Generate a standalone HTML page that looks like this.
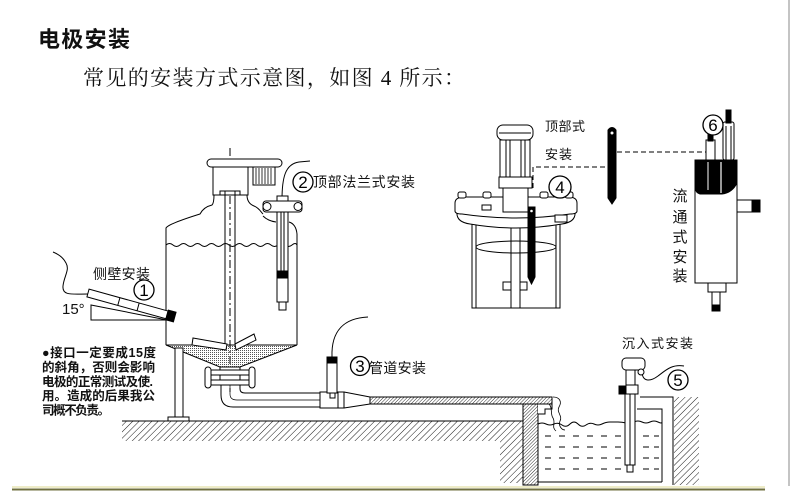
<!DOCTYPE html>
<html><head><meta charset="utf-8"><style>
html,body{margin:0;padding:0;background:#fff;}
svg{display:block;}
text{font-family:"Liberation Sans","Noto Sans CJK SC",sans-serif;}
</style></head><body>
<svg width="790" height="492" viewBox="0 0 790 492" xmlns="http://www.w3.org/2000/svg">
<defs>
<pattern id="hg" width="4.5" height="4.5" patternUnits="userSpaceOnUse" patternTransform="rotate(45)"><line x1="0" y1="0" x2="0" y2="4.5" stroke="#000" stroke-width="0.9"/></pattern>
<pattern id="hd" width="2.4" height="2.4" patternUnits="userSpaceOnUse" patternTransform="rotate(45)"><line x1="0" y1="0" x2="0" y2="2.4" stroke="#000" stroke-width="0.8"/></pattern>
<pattern id="dots" width="2" height="2" patternUnits="userSpaceOnUse"><rect width="1" height="1" fill="#555"/></pattern>
</defs>

<!-- frame lines -->
<line x1="789" y1="0" x2="789" y2="486" stroke="#8a8a8a" stroke-width="1"/>
<line x1="12" y1="487" x2="765" y2="487" stroke="#eeecc8" stroke-width="2"/>
<line x1="12" y1="489.5" x2="765" y2="489.5" stroke="#707040" stroke-width="2"/>

<!-- titles -->
<text x="38" y="47" font-size="22" font-weight="bold" textLength="92" fill="#111">电极安装</text>
<text x="83" y="85" font-size="21" textLength="382" fill="#111" style="font-family:'Liberation Serif','Noto Serif CJK SC',serif">常见的安装方式示意图，如图 4 所示：</text>

<g fill="none" stroke="#000" stroke-width="1">
<!-- ===== LEFT TANK ===== -->
<line x1="230" y1="148" x2="230" y2="392" stroke-dasharray="8,3,2,3"/>
<rect x="207" y="159" width="75" height="8" rx="4" fill="#fff"/>
<rect x="213" y="167" width="35" height="28" fill="#fff"/>
<rect x="253" y="167" width="22" height="18" fill="#fff"/>
<g stroke-width="0.8"><line x1="256" y1="168" x2="256" y2="184"/><line x1="259" y1="168" x2="259" y2="184"/><line x1="262" y1="168" x2="262" y2="184"/><line x1="265" y1="168" x2="265" y2="184"/><line x1="268" y1="168" x2="268" y2="184"/><line x1="271" y1="168" x2="271" y2="184"/></g>
<path d="M166,345 L166,228 Q168,224 200,214 C203,208 208,206 212,205 C214,203 214,198 214,195 L220,195 L220,191 L240,191 L240,195 L247,195 C247,200 249,204 254,206 C259,208 261,212 263,214"/>
<path d="M263,216 Q268,221 276,222"/>
<path d="M289,222 Q296,224 297,234 L297,345"/>
<line x1="225" y1="191" x2="225" y2="345"/>
<line x1="235" y1="191" x2="235" y2="345"/>
<path d="M166,245 q3.5,-3 7,0 t7,0 t7,0 t7,0 t7,0 t7,0 t7,0 t7,0 t7,0 t7,0 t7,0 t7,0 t7,0 t7,0 t7,0 t7,0 t7,0 t7,0 t5,0"/>
<!-- cone -->
<polygon points="166,345 297,345 240,367 220,367" fill="url(#dots)"/>
<polygon points="193,338 227,344 226,350 192,345" fill="#fff"/>
<polygon points="235,344 254,334 256,340 236,350" fill="#fff"/>
<!-- flange -->
<rect x="220" y="367" width="20" height="18" fill="#fff"/>
<rect x="207" y="370" width="46" height="5" fill="#fff"/>
<rect x="207" y="380" width="46" height="5" fill="#fff"/>
<rect x="205" y="367" width="6" height="21" rx="3" fill="#fff"/>
<rect x="249" y="367" width="6" height="21" rx="3" fill="#fff"/>
<!-- elbow pipe -->
<path d="M221,385 L221,395 Q221,407 233,407 L320,407"/>
<path d="M240,385 L240,389 Q240,393 245,393 L320,393"/>
<path d="M230,385 L230,394 Q230,400 237,400 L320,400" stroke-width="0.7"/>
<!-- tee + sensor 3 -->
<rect x="320" y="392" width="24" height="16" fill="#fff"/>
<line x1="338" y1="392" x2="338" y2="408"/>
<path d="M344,392 L370,397 M344,408 L370,404"/>
<rect x="370" y="397" width="182" height="7" fill="url(#hd)"/>
<rect x="327" y="359" width="10" height="34" fill="#fff"/>
<rect x="327" y="357" width="10" height="6" fill="#000"/>
<rect x="330" y="393" width="5" height="5" fill="#fff"/>
<path d="M332,357 C331,330 345,318 368,317"/>
<!-- ground -->
<rect x="122" y="421" width="401" height="20" fill="url(#hg)" stroke="none"/>
<rect x="500" y="441" width="23" height="42" fill="url(#hg)" stroke="none"/>
<line x1="122" y1="421" x2="523" y2="421"/>
<!-- leg -->
<rect x="175" y="348" width="8" height="69" fill="#fff"/>
<rect x="168" y="417" width="21" height="4" fill="#fff"/>

<!-- probe 1 -->
<polygon points="91,305 91,320 167,320" fill="#fff"/>
<g transform="rotate(15.5 88 293)">
<rect x="88" y="289" width="82" height="8" fill="#fff"/>
<line x1="120" y1="289" x2="120" y2="297"/><line x1="140" y1="289" x2="140" y2="297"/>
<rect x="170" y="288" width="8" height="10" fill="#000"/>
</g>
<path d="M88,294 C72,294 62,296 63,286 C64,276 70,270 66,263 C63,257 58,254 53,252"/>

<!-- probe 2 -->
<path d="M282,200 C282,178 285,164 299,162 L310,161"/>
<rect x="277" y="196" width="11" height="5" fill="#fff"/>
<rect x="263" y="201" width="39" height="11" rx="3" fill="#fff"/>
<circle cx="267" cy="206.5" r="4" fill="#fff"/><circle cx="298" cy="206.5" r="4" fill="#fff"/>
<rect x="277" y="212" width="11" height="60" fill="#fff"/>
<line x1="281" y1="212" x2="281" y2="272"/><line x1="284" y1="212" x2="284" y2="272"/>
<rect x="277" y="271" width="11" height="7" fill="#000"/>
<rect x="277" y="278" width="11" height="24" fill="#fff"/>
<rect x="279" y="302" width="7" height="8" fill="#fff"/>

<!-- ===== POOL ===== -->
<rect x="523" y="404" width="15" height="81" fill="url(#hd)"/>
<path d="M538,404 L552,404 L552,409 L545,409 L545,414 L538,414" fill="#fff"/>
<path d="M553,397 C560,397 562,402 559,407 C556,412 563,416 560,421 C558,426 562,430 565,430 M549,404 C553,408 550,414 553,418 C556,423 551,427 556,431" stroke-width="0.8"/>
<path d="M538,424 q4,-2 8,0 t8,0 t8,1 t8,-1 t8,0 t8,1 t8,-1 t8,0 t8,-2 t8,0 t8,1 t8,-1 t8,0 t8,0 t8,0 t4,0"/>
<line x1="538" y1="482" x2="662" y2="482"/>
<path d="M637,409 L662,409 L662,482"/>
<path d="M640,397 L673,397 L673,485"/>
<rect x="674" y="397" width="25" height="88" fill="url(#hg)" stroke="none"/>
<g stroke-width="1.1">
<path d="M545,436 h6 M559,436 h6 M573,436 h6 M587,436 h6 M601,436 h6 M615,436 h6 M643,436 h6 M654,436 h5"/>
<path d="M545,447 h6 M559,447 h6 M573,447 h6 M587,447 h6 M601,447 h6 M615,447 h6 M643,447 h6 M654,447 h5"/>
<path d="M545,458 h6 M559,458 h6 M573,458 h6 M587,458 h6 M601,458 h6 M615,458 h6 M643,458 h6 M654,458 h5"/>
<path d="M545,469 h6 M559,469 h6 M573,469 h6 M587,469 h6 M601,469 h6 M615,469 h6 M643,469 h6 M654,469 h5"/>
</g>
<!-- sensor 5 -->
<path d="M642,371 C642,382 650,382 658,376 C666,370 672,364 684,366"/>
<rect x="622" y="358" width="23" height="12" rx="4" fill="#fff"/>
<circle cx="641" cy="372" r="3" fill="#fff"/>
<rect x="626" y="370" width="9" height="16" fill="#fff"/>
<rect x="619" y="386" width="7" height="8" fill="#000"/>
<rect x="626" y="385" width="12" height="9" fill="#fff"/>
<rect x="625" y="394" width="10" height="71" fill="#fff"/>
<line x1="630" y1="394" x2="630" y2="465"/>
<rect x="627" y="465" width="6" height="7" fill="#fff"/>

<!-- ===== REACTOR 4 ===== -->
<rect x="472" y="222" width="88" height="86" fill="#fff"/>
<line x1="476" y1="222" x2="476" y2="308"/>
<line x1="556" y1="222" x2="556" y2="308"/>
<ellipse cx="516" cy="247" rx="40" ry="6"/>
<line x1="511" y1="212" x2="511" y2="308"/>
<line x1="520" y1="212" x2="520" y2="308"/>
<rect x="503" y="282" width="8" height="8" fill="#fff"/>
<rect x="520" y="282" width="7" height="8" fill="#fff"/>
<!-- lid -->
<path d="M457,212 Q456,222 470,224 Q516,232 562,224 Q576,222 575,212 Z" fill="#fff"/>
<path d="M455,203 Q455,197 465,197 L568,197 Q577,197 577,203 L577,211 Q577,214 570,214 Q516,222 462,214 Q455,214 455,211 Z" fill="#fff"/>
<rect x="458" y="192" width="8" height="6" rx="2" fill="#fff"/>
<rect x="483" y="192" width="8" height="6" rx="2" fill="#fff"/>
<rect x="540" y="192" width="8" height="6" rx="2" fill="#fff"/>
<rect x="565" y="192" width="8" height="6" rx="2" fill="#fff"/>
<rect x="482" y="205" width="9" height="5" fill="#fff"/>
<rect x="555" y="215" width="12" height="7" fill="#fff"/>
<!-- motor -->
<rect x="503" y="188" width="25" height="24" fill="#fff"/>
<rect x="499" y="177" width="33" height="11" fill="#fff"/>
<rect x="500" y="140" width="30" height="37" fill="#fff"/>
<line x1="506" y1="140" x2="506" y2="177"/><line x1="510" y1="140" x2="510" y2="177"/>
<line x1="521" y1="140" x2="521" y2="177"/><line x1="525" y1="140" x2="525" y2="177"/>
<rect x="497" y="125" width="36" height="15" rx="6" fill="#fff"/>
<line x1="499" y1="133" x2="531" y2="133"/>
<polygon points="528,207 535,207 535,277 531.5,284 528,277" fill="#000"/>
<circle cx="531.5" cy="211" r="1.3" fill="#fff" stroke="none"/>
<!-- dashed leaders -->
<path d="M533,188 L533,167 L607,167" stroke-dasharray="5,3"/>
<line x1="617" y1="152" x2="706" y2="152" stroke-dasharray="5,3"/>
<!-- standalone electrode -->
<path d="M608,130 Q612,125 616,130 L616,198 L612,204 L608,198 Z" fill="#000"/>
<circle cx="612" cy="133" r="1.5" fill="#fff" stroke="none"/>

<!-- ===== FLOW CELL 6 ===== -->
<rect x="695" y="160" width="42" height="123" fill="#fff"/>
<path d="M695,160 L737,160 L737,183 Q732,193 722,194 L700,194 Q696,193 695,188 Z" fill="#000"/>
<line x1="721" y1="162" x2="721" y2="193" stroke="#fff" stroke-width="1.2"/>
<line x1="708" y1="162" x2="708" y2="190" stroke="#fff" stroke-width="1"/>
<rect x="737" y="200" width="16" height="12" fill="#fff"/>
<rect x="752" y="200" width="8" height="12" fill="#000"/>
<rect x="708" y="283" width="18" height="9" fill="#fff"/>
<rect x="712" y="292" width="8" height="14" fill="#fff"/>
<rect x="712" y="305" width="8" height="6" fill="#000"/>
<rect x="706" y="140" width="9" height="20" fill="#fff"/>
<rect x="708" y="133" width="5" height="8" fill="#000"/>
<rect x="723" y="122" width="11" height="38" rx="2" fill="#fff"/>
<line x1="726" y1="126" x2="726" y2="160"/><line x1="731" y1="126" x2="731" y2="160"/>
<rect x="726" y="110" width="5" height="13" fill="#000"/>
</g>

<!-- circled numbers -->
<g fill="#fff" stroke="#000" stroke-width="1.3">
<circle cx="144" cy="290" r="10"/>
<circle cx="303" cy="182" r="10"/>
<circle cx="360" cy="366" r="9.5"/>
<circle cx="560" cy="187" r="11"/>
<circle cx="678" cy="380" r="10"/>
<circle cx="713" cy="125" r="10"/>
</g>
<g font-size="17" text-anchor="middle" fill="#000" style="font-family:'Liberation Sans',sans-serif">
<text x="144" y="296">1</text>
<text x="303" y="188">2</text>
<text x="360" y="372">3</text>
<text x="560" y="193">4</text>
<text x="678" y="386">5</text>
<text x="713" y="131">6</text>
</g>

<!-- labels -->
<g fill="#111" font-size="14">
<text x="93" y="279" textLength="57">侧壁安装</text>
<text x="62" y="314" font-size="15" style="font-family:'Liberation Sans',sans-serif">15°</text>
<text x="313" y="187" textLength="102">顶部法兰式安装</text>
<text x="369" y="373" textLength="57">管道安装</text>
<text x="622" y="348" textLength="71" font-size="13">沉入式安装</text>
<text x="545" y="131" font-size="13" textLength="40">顶部式</text>
<text x="545" y="159" font-size="13" textLength="27">安装</text>
</g>
<g fill="#111" font-size="15" text-anchor="middle">
<text x="680" y="201">流</text>
<text x="680" y="222">通</text>
<text x="680" y="242">式</text>
<text x="680" y="262">安</text>
<text x="680" y="281">装</text>
</g>
<g fill="#111" font-size="12.5" font-weight="bold">
<text x="42" y="357" textLength="114">●接口一定要成15度</text>
<text x="42" y="371.5" textLength="113">的斜角，否则会影响</text>
<text x="42" y="386" textLength="111">电极的正常测试及使.</text>
<text x="42" y="400" textLength="113">用。造成的后果我公</text>
<text x="42" y="414.5" textLength="68">司概不负责。</text>
</g>
</svg>
</body></html>
